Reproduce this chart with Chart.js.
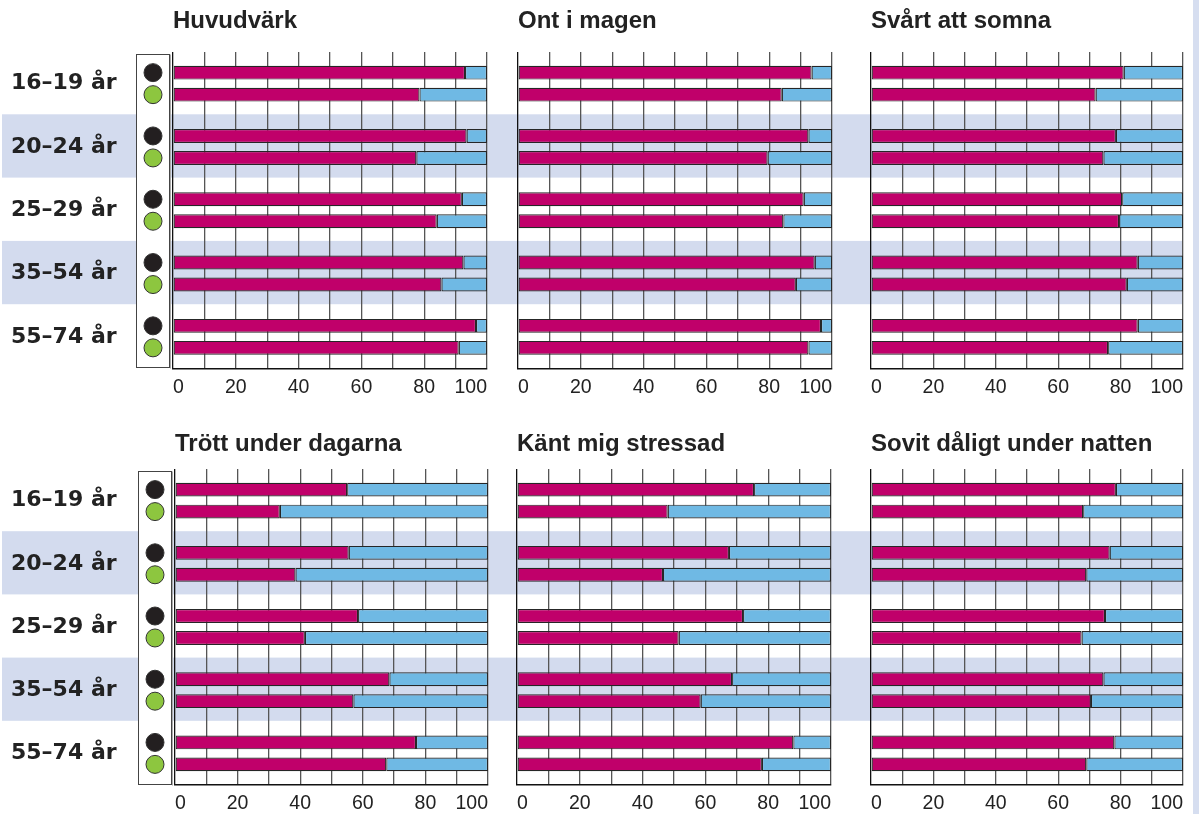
<!DOCTYPE html>
<html>
<head>
<meta charset="utf-8">
<script src="https://cdn.jsdelivr.net/npm/chart.js@4.4.1/dist/chart.umd.min.js"></script>
<style>
  body { margin: 0; background: #fff; }
  #wrap { position: relative; width: 1199px; height: 814px; overflow: hidden; }
  #wrap canvas { position: absolute; }
  #edge { position: absolute; left: 1193px; top: 0; width: 6px; height: 814px; background: #d6def0; }
</style>
</head>
<body>
<div id="wrap">
  <canvas id="c0"></canvas>
  <canvas id="c1"></canvas>
  <canvas id="c2"></canvas>
  <canvas id="c3"></canvas>
  <canvas id="c4"></canvas>
  <canvas id="c5"></canvas>
  <div id="edge"></div>
</div>
<script>
// age groups (y categories) and x tick labels
var ageGroups = ['16–19 år', '20–24 år', '25–29 år', '35–54 år', '55–74 år'];
var xTicks = [0, 20, 40, 60, 80, 100];

var titles = ['Huvudvärk', 'Ont i magen', 'Svårt att somna',
              'Trött under dagarna', 'Känt mig stressad', 'Sovit dåligt under natten'];

// share (%) in magenta, black dot = first bar, green dot = second bar
var huvudvarkMen     = [93, 93.5, 92, 92.5, 96.5];
var huvudvarkWomen   = [78.5, 77.5, 84, 85.5, 91];
var ontMagenMen      = [93.5, 92.5, 91, 94.5, 96.5];
var ontMagenWomen    = [84, 79.5, 84.5, 88.5, 92.5];
var somnaMen         = [81, 78.5, 80.5, 85.5, 85.5];
var somnaWomen       = [72, 74.5, 79.5, 82, 76];
var trottMen         = [55, 55.5, 58.5, 68.5, 77];
var trottWomen       = [33.5, 38.5, 41.5, 57, 67.5];
var stressadMen      = [75.5, 67.5, 72, 68.5, 88];
var stressadWomen    = [48, 46.5, 51.5, 58.5, 78];
var sovitMen         = [78.5, 76.5, 75, 74.5, 78];
var sovitWomen       = [68, 69, 67.5, 70.5, 69];

var MAGENTA = '#c0006a';
var BLUE = '#6fb9e4';
var BAND = '#d3dbee';

// row layout: canvas top, title paddings, x axis height
var rows = [
  { top: 0,   titleTop: 6.6,  titleBottom: 16.6, axisH: 38.5 },
  { top: 407, titleTop: 22.6, titleBottom: 10.6, axisH: 29 }
];

var panels = [
  { x: 0,   w: 500, row: 0, padL: 11, padR: 13, yW: 162, men: huvudvarkMen, women: huvudvarkWomen },
  { x: 500, w: 350, row: 0, padL: 18, padR: 18, men: ontMagenMen, women: ontMagenWomen },
  { x: 850, w: 349, row: 0, padL: 21, padR: 16, last: true, men: somnaMen, women: somnaWomen },
  { x: 0,   w: 500, row: 1, padL: 11, padR: 12, yW: 164, men: trottMen, women: trottWomen },
  { x: 500, w: 350, row: 1, padL: 17, padR: 19, men: stressadMen, women: stressadWomen },
  { x: 850, w: 349, row: 1, padL: 21, padR: 16, last: true, men: sovitMen, women: sovitWomen }
];

function rest(arr) {
  return arr.map(function (v) { return 100 - v; });
}

// light bands behind every second age group
var bandPlugin = {
  id: 'bands',
  beforeDraw: function (chart, args, o) {
    var ctx = chart.ctx, a = chart.chartArea, y = chart.scales.y;
    var step = (a.bottom - a.top) / ageGroups.length;
    var x1 = o.last ? a.right : chart.width;
    ctx.save();
    ctx.fillStyle = BAND;
    for (var i = 0; i < ageGroups.length; i++) {
      if (i % 2 === 1) {
        var c = y.getPixelForValue(i);
        ctx.fillRect(o.x0, c - step / 2 - 1, x1 - o.x0, step);
      }
    }
    ctx.restore();
  }
};

// box with black / green dots next to the bars
var dotPlugin = {
  id: 'dots',
  afterDraw: function (chart, args, o) {
    if (!o.show) return;
    var ctx = chart.ctx, a = chart.chartArea;
    var x0 = Math.round(a.left - 37) + 0.5, x1 = Math.round(a.left - 4) + 0.5;
    var y0 = Math.round(a.top + 2) + 0.5, y1 = Math.round(a.bottom - 1.5) + 0.5;
    var cx = (x0 + x1) / 2;
    ctx.save();
    ctx.fillStyle = '#fff';
    ctx.fillRect(x0, y0, x1 - x0, y1 - y0);
    ctx.strokeStyle = '#444';
    ctx.lineWidth = 1;
    ctx.strokeRect(x0, y0, x1 - x0, y1 - y0);
    ctx.strokeStyle = '#aaa';
    ctx.beginPath(); ctx.moveTo(x1 + 1, y0); ctx.lineTo(x1 + 1, y1 + 1); ctx.stroke();
    function dot(y, fill) {
      ctx.beginPath();
      ctx.arc(cx, y, 9, 0, Math.PI * 2);
      ctx.fillStyle = fill;
      ctx.fill();
      ctx.strokeStyle = '#333';
      ctx.lineWidth = 1;
      ctx.stroke();
    }
    chart.getDatasetMeta(0).data.forEach(function (b) { dot(b.y, '#231f20'); });
    chart.getDatasetMeta(2).data.forEach(function (b) { dot(b.y, '#8dc63f'); });
    ctx.restore();
  }
};

for (let i = 0; i < panels.length; i++) {
  let p = panels[i];
  let r = rows[p.row];
  let canvas = document.getElementById('c' + i);
  canvas.width = p.w;
  canvas.height = 407;
  canvas.style.left = p.x + 'px';
  canvas.style.top = r.top + 'px';
  let hasLabels = !!p.yW;

  let barStyle = {
    borderColor: '#262626',
    borderWidth: 1.2,
    borderSkipped: false,
    categoryPercentage: 0.695,
    barPercentage: 0.63
  };

  new Chart(canvas.getContext('2d'), {
    type: 'bar',
    data: {
      labels: ageGroups,
      datasets: [
        Object.assign({ label: 'a', data: p.men, stack: 'men', backgroundColor: MAGENTA }, barStyle),
        Object.assign({ label: 'b', data: rest(p.men), stack: 'men', backgroundColor: BLUE }, barStyle),
        Object.assign({ label: 'c', data: p.women, stack: 'women', backgroundColor: MAGENTA }, barStyle),
        Object.assign({ label: 'd', data: rest(p.women), stack: 'women', backgroundColor: BLUE }, barStyle)
      ]
    },
    options: {
      indexAxis: 'y',
      responsive: false,
      animation: false,
      layout: { padding: { left: p.padL, right: p.padR, top: 0, bottom: 0 } },
      plugins: {
        legend: { display: false },
        tooltip: { enabled: false },
        title: {
          display: true,
          text: titles[i],
          align: 'start',
          fullSize: false,
          color: '#222',
          font: { family: 'Liberation Sans, Arial, sans-serif', size: 24, weight: 'bold' },
          padding: { top: r.titleTop, bottom: r.titleBottom }
        },
        bands: { x0: hasLabels ? 2 : 0, last: !!p.last },
        dots: { show: hasLabels }
      },
      scales: {
        x: {
          stacked: true,
          min: 0,
          max: 100,
          ticks: {
            stepSize: 10,
            autoSkip: false,
            maxRotation: 0,
            align: 'inner',
            padding: 7,
            color: '#222',
            font: { family: 'Liberation Sans, Arial, sans-serif', size: 19.5 },
            callback: function (v) { return xTicks.indexOf(v) >= 0 ? String(v) : ''; }
          },
          grid: {
            drawTicks: false,
            lineWidth: 1.3,
            color: function (c) { return c.tick && c.tick.value === 0 ? '#111' : '#555'; }
          },
          border: { display: true, color: '#111', width: 1.5 },
          afterFit: function (s) { s.height = r.axisH; }
        },
        y: {
          display: hasLabels,
          grid: { display: false },
          border: { display: false },
          ticks: {
            crossAlign: 'far',
            padding: 0,
            color: '#222',
            font: { family: 'DejaVu Sans, sans-serif', size: 22, weight: 'bold' }
          },
          afterFit: function (s) { if (hasLabels) s.width = p.yW; }
        }
      }
    },
    plugins: [bandPlugin, dotPlugin]
  });
}
</script>
</body>
</html>
